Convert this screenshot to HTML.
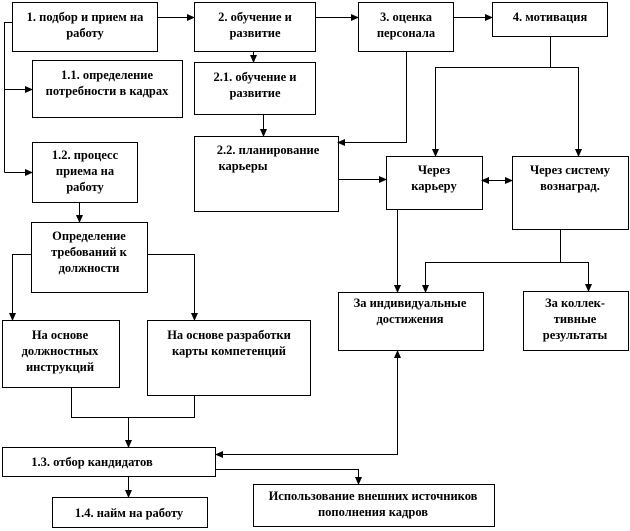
<!DOCTYPE html>
<html><head><meta charset="utf-8"><style>
html,body{margin:0;padding:0;background:#fff;}
svg{display:block;}
text{font-family:"Liberation Serif",serif;font-weight:bold;font-size:12.5px;fill:#000;text-anchor:middle;}
rect{fill:#fff;stroke:#000;stroke-width:1;}
line,polyline{stroke:#000;stroke-width:1;fill:none;}
</style></head><body>
<svg width="630" height="531" viewBox="0 0 630 531" xmlns="http://www.w3.org/2000/svg">
<defs><marker id="a" markerWidth="8" markerHeight="8" refX="7" refY="4" orient="auto" markerUnits="userSpaceOnUse"><path d="M0,0.5 L8,4 L0,7.5 z" fill="#000"/></marker></defs>

<rect x="12.5" y="2.5" width="145" height="49"/>
<rect x="194.5" y="2.5" width="121" height="49"/>
<rect x="358.5" y="2.5" width="95" height="49"/>
<rect x="492.5" y="2.5" width="115" height="34"/>
<rect x="32.5" y="60.5" width="150" height="57"/>
<rect x="194.5" y="62.5" width="121" height="52"/>
<rect x="32.5" y="142.5" width="105" height="60"/>
<rect x="194.5" y="136.5" width="144" height="75"/>
<rect x="31.5" y="222.5" width="116" height="70"/>
<rect x="386.5" y="156.5" width="96" height="53"/>
<rect x="512.5" y="156.5" width="116" height="73"/>
<rect x="2.5" y="320.5" width="117" height="67"/>
<rect x="147.5" y="320.5" width="163" height="75"/>
<rect x="338.5" y="292.5" width="145" height="58"/>
<rect x="523.5" y="291.5" width="105" height="59"/>
<rect x="2.5" y="447.5" width="213" height="29"/>
<rect x="52.5" y="497.5" width="155" height="30"/>
<rect x="253.5" y="484.5" width="241" height="42"/>

<text x="85" y="21">1. подбор и прием на</text><text x="85" y="37">работу</text>
<text x="255" y="21">2. обучение и</text><text x="255" y="37">развитие</text>
<text x="406" y="21">3. оценка</text><text x="406" y="37">персонала</text>
<text x="550" y="21">4. мотивация</text>
<text x="107" y="79">1.1. определение</text><text x="107" y="95">потребности в кадрах</text>
<text x="255" y="81">2.1. обучение и</text><text x="255" y="97">развитие</text>
<text x="85" y="159">1.2. процесс</text><text x="85" y="175">приема на</text><text x="85" y="191">работу</text>
<text x="268" y="154">2.2. планирование</text><text x="243" y="170">карьеры</text>
<text x="89" y="240">Определение</text><text x="89" y="256">требований к</text><text x="89" y="272">должности</text>
<text x="434" y="174">Через</text><text x="434" y="190">карьеру</text>
<text x="570" y="174">Через систему</text><text x="570" y="190">вознаград.</text>
<text x="60" y="339">На основе</text><text x="60" y="355">должностных</text><text x="60" y="371">инструкций</text>
<text x="229" y="339">На основе разработки</text><text x="229" y="355">карты компетенций</text>
<text x="410" y="307">За индивидуальные</text><text x="410" y="323">достижения</text>
<text x="575" y="307">За коллек-</text><text x="575" y="323">тивные</text><text x="575" y="339">результаты</text>
<text x="92" y="466">1.3.  отбор кандидатов</text>
<text x="129" y="517">1.4. найм на работу</text>
<text x="373" y="500">Использование  внешних  источников</text><text x="373" y="516">пополнения кадров</text>

<line x1="157" y1="17.5" x2="194" y2="17.5" marker-end="url(#a)"/>
<line x1="315" y1="17.5" x2="358" y2="17.5" marker-end="url(#a)"/>
<line x1="453" y1="17.5" x2="492" y2="17.5" marker-end="url(#a)"/>
<polyline points="12,22.5 4.5,22.5 4.5,172.5"/>
<line x1="4.5" y1="89.5" x2="32" y2="89.5" marker-end="url(#a)"/>
<line x1="4.5" y1="172.5" x2="32" y2="172.5" marker-end="url(#a)"/>
<line x1="253.5" y1="51" x2="253.5" y2="62" marker-end="url(#a)"/>
<line x1="263.5" y1="114" x2="263.5" y2="136" marker-end="url(#a)"/>
<line x1="79.5" y1="202" x2="79.5" y2="222" marker-end="url(#a)"/>
<polyline points="31,254.5 12.5,254.5 12.5,320" marker-end="url(#a)"/>
<polyline points="147,254.5 194.5,254.5 194.5,320" marker-end="url(#a)"/>
<polyline points="406.5,51 406.5,142.5 338,142.5" marker-end="url(#a)"/>
<line x1="338" y1="179.5" x2="386" y2="179.5" marker-end="url(#a)"/>
<line x1="495" y1="180.5" x2="482" y2="180.5" marker-end="url(#a)"/>
<line x1="495" y1="180.5" x2="512" y2="180.5" marker-end="url(#a)"/>
<line x1="550.5" y1="36" x2="550.5" y2="67.5"/>
<polyline points="435.5,156 435.5,67.5 578.5,67.5 578.5,156" />
<line x1="435.5" y1="140" x2="435.5" y2="156" marker-end="url(#a)"/>
<line x1="578.5" y1="140" x2="578.5" y2="156" marker-end="url(#a)"/>
<line x1="397.5" y1="209" x2="397.5" y2="292" marker-end="url(#a)"/>
<line x1="560.5" y1="229" x2="560.5" y2="262.5"/>
<polyline points="425.5,292 425.5,262.5 588.5,262.5 588.5,291" />
<line x1="425.5" y1="275" x2="425.5" y2="292" marker-end="url(#a)"/>
<line x1="588.5" y1="275" x2="588.5" y2="291" marker-end="url(#a)"/>
<polyline points="71.5,387 71.5,417.5 194.5,417.5 194.5,395"/>
<line x1="128.5" y1="417" x2="128.5" y2="447" marker-end="url(#a)"/>
<line x1="128.5" y1="476" x2="128.5" y2="497" marker-end="url(#a)"/>
<polyline points="215,469.5 358.5,469.5 358.5,484" marker-end="url(#a)"/>
<polyline points="397.5,400 397.5,454.5 216,454.5" marker-end="url(#a)"/>
<line x1="397.5" y1="400" x2="397.5" y2="351" marker-end="url(#a)"/>
</svg>
</body></html>
